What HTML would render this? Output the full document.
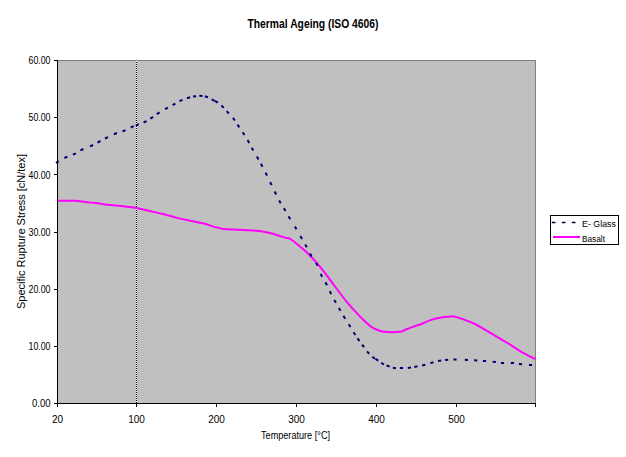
<!DOCTYPE html>
<html><head><meta charset="utf-8"><style>
html,body{margin:0;padding:0;background:#fff;width:626px;height:457px;overflow:hidden}
svg{display:block}
text{font-family:"Liberation Sans", sans-serif;fill:#000}
</style></head><body>
<svg width="626" height="457" viewBox="0 0 626 457">
<rect x="0" y="0" width="626" height="457" fill="#fff"/>
<text x="247.5" y="28" font-size="12" font-weight="bold" textLength="131" lengthAdjust="spacingAndGlyphs">Thermal Ageing (ISO 4606)</text>
<rect x="57" y="60" width="479" height="344" fill="#c0c0c0"/>
<path d="M57.5,60.5 H535.5 V403.5" fill="none" stroke="#808080" stroke-width="1"/>
<path d="M136.5,61 V403" fill="none" stroke="#fff" stroke-width="1"/>
<path d="M136.5,62 V403" fill="none" stroke="#000" stroke-width="1" stroke-dasharray="1 1"/>
<path d="M57.6,200.8 C60.5,200.8 70.1,200.6 74.7,200.8 C79.3,201.0 81.7,201.7 85.2,202.1 C88.7,202.5 92.0,202.7 95.7,203.1 C99.4,203.5 103.3,204.2 107.5,204.7 C111.7,205.2 117.0,205.6 120.7,206.0 C124.5,206.4 127.3,206.8 130.0,207.1 C132.7,207.4 133.3,207.4 136.6,208.1 C139.9,208.8 145.3,210.0 149.7,211.0 C154.1,212.0 158.4,212.9 162.8,214.0 C167.2,215.1 171.6,216.5 176.0,217.6 C180.4,218.7 184.3,219.6 189.1,220.6 C193.9,221.6 201.0,222.8 205.0,223.8 C209.0,224.8 209.8,225.5 212.9,226.4 C216.0,227.3 219.2,228.4 223.4,229.0 C227.6,229.6 232.1,229.4 237.8,229.7 C243.5,230.0 252.1,230.2 257.5,230.8 C262.9,231.4 265.4,231.9 270.0,233.0 C274.6,234.1 281.7,236.6 285.0,237.6 C288.3,238.6 287.9,237.6 290.0,238.8 C292.1,240.0 295.1,242.4 297.9,244.7 C300.7,247.0 303.9,249.7 307.0,252.6 C310.1,255.5 313.2,258.9 316.3,262.4 C319.4,265.9 322.4,269.6 325.5,273.6 C328.6,277.6 331.5,281.9 335.0,286.5 C338.5,291.1 342.7,296.9 346.3,301.3 C349.9,305.7 353.9,309.9 356.8,313.1 C359.8,316.3 361.6,318.2 364.0,320.5 C366.4,322.8 368.9,325.1 371.0,326.6 C373.1,328.1 374.3,328.6 376.5,329.5 C378.7,330.4 380.3,331.4 384.2,331.8 C388.1,332.2 396.2,332.2 399.9,331.8 C403.6,331.4 403.9,330.2 406.5,329.2 C409.1,328.2 413.4,326.7 415.7,325.9 C417.9,325.1 417.5,325.5 420.0,324.5 C422.5,323.5 427.0,321.3 430.5,320.1 C434.0,318.9 437.8,318.1 441.0,317.5 C444.2,316.9 447.5,316.8 449.8,316.6 C452.1,316.5 452.4,316.0 455.0,316.6 C457.6,317.2 462.0,318.8 465.5,320.1 C469.0,321.4 472.5,322.8 476.0,324.5 C479.5,326.2 483.0,328.6 486.5,330.6 C490.0,332.7 493.4,334.7 497.0,336.8 C500.6,338.9 504.1,340.9 508.4,343.5 C512.7,346.1 518.2,350.1 522.7,352.7 C527.2,355.3 533.4,358.0 535.5,359.1" fill="none" stroke="#ff00ff" stroke-width="2"/>
<path d="M56.0,162.8 L58.8,161.2 M64.4,158.0 L67.4,156.6 M72.9,154.7 L75.9,153.3 M80.4,150.4 L83.4,149.0 M90.0,146.4 L93.0,145.0 M97.5,142.6 L100.5,141.0 M105.0,138.5 L108.0,137.1 M113.9,134.2 L116.9,133.0 M122.5,131.4 L125.5,130.2 M130.7,127.5 L133.7,126.1 M135.7,125.4 L138.7,124.2 M143.6,122.5 L146.6,121.1 M150.3,118.7 L153.1,116.9 M156.8,114.1 L159.6,112.3 M165.1,109.2 L167.9,107.6 M172.6,105.2 L175.4,103.6 M179.5,101.2 L182.5,99.8 M186.9,98.2 L190.1,97.2 M193.0,96.6 L196.2,96.2 M199.3,95.7 L202.5,95.9 M204.8,96.3 L208.0,97.3 M211.6,99.4 L214.6,100.8 M215.0,100.9 L217.8,102.7 M221.4,105.6 L223.8,107.8 M226.7,111.1 L228.9,113.5 M232.9,117.9 L234.9,120.5 M237.5,124.6 L239.3,127.4 M242.7,132.2 L244.5,135.0 M247.6,140.1 L249.2,142.9 M251.7,147.8 L253.3,150.6 M256.9,156.6 L258.5,159.4 M260.9,163.7 L262.5,166.7 M265.6,172.6 L267.0,175.6 M270.2,182.1 L271.6,185.1 M274.7,191.5 L276.1,194.5 M279.1,200.4 L280.7,203.2 M283.9,208.3 L285.5,211.1 M288.5,216.4 L290.3,219.2 M294.9,226.4 L296.5,229.2 M300.4,236.1 L302.0,238.9 M305.2,244.4 L306.8,247.2 M310.0,253.6 L311.6,256.4 M316.1,262.9 L317.7,265.9 M320.7,273.8 L322.1,276.8 M325.4,282.2 L327.0,285.2 M329.8,291.2 L331.2,294.2 M334.3,299.9 L335.9,302.7 M338.9,308.0 L340.5,310.8 M343.4,315.9 L345.2,318.7 M348.7,324.2 L350.5,327.0 M353.6,332.2 L355.4,335.0 M357.6,338.3 L359.4,341.1 M362.1,344.6 L364.1,347.2 M367.0,351.4 L369.2,353.8 M372.3,356.8 L374.9,358.8 M375.5,358.9 L378.3,360.7 M381.2,362.9 L384.0,364.5 M386.5,365.4 L389.7,366.6 M392.8,367.8 L396.0,368.2 M399.9,368.0 L403.1,368.0 M407.8,367.9 L411.0,367.5 M414.3,366.9 L417.5,366.3 M422.1,365.5 L425.3,364.7 M430.3,363.1 L433.5,362.3 M438.0,361.0 L441.2,360.4 M445.0,360.0 L448.2,359.8 M453.4,359.5 L456.6,359.5 M464.8,359.8 L468.0,360.0 M474.1,360.3 L477.3,360.5 M482.9,360.9 L486.1,361.1 M492.7,361.7 L495.9,362.1 M500.9,362.9 L504.1,363.1 M510.8,362.9 L514.0,363.1 M518.9,363.9 L522.1,364.3 M528.9,364.9 L532.1,365.1" fill="none" stroke="#000070" stroke-width="2"/>
<path d="M57.5,60 V404" stroke="#000" stroke-width="1"/>
<path d="M57,403.5 H536" stroke="#000" stroke-width="1"/>
<g stroke="#000" stroke-width="1">
<path d="M54,403.5 H57"/>
<path d="M54,346.5 H57"/>
<path d="M54,289.5 H57"/>
<path d="M54,232.5 H57"/>
<path d="M54,174.5 H57"/>
<path d="M54,117.5 H57"/>
<path d="M54,60.5 H57"/>
<path d="M57.5,403 V407"/>
<path d="M136.5,403 V407"/>
<path d="M216.5,403 V407"/>
<path d="M296.5,403 V407"/>
<path d="M376.5,403 V407"/>
<path d="M456.5,403 V407"/>
<path d="M535.5,403 V407"/>
</g>
<text x="50.5" y="407.2" font-size="10" text-anchor="end" textLength="18.5" lengthAdjust="spacingAndGlyphs">0.00</text>
<text x="50.5" y="350.0" font-size="10" text-anchor="end" textLength="22" lengthAdjust="spacingAndGlyphs">10.00</text>
<text x="50.5" y="292.9" font-size="10" text-anchor="end" textLength="22" lengthAdjust="spacingAndGlyphs">20.00</text>
<text x="50.5" y="235.7" font-size="10" text-anchor="end" textLength="22" lengthAdjust="spacingAndGlyphs">30.00</text>
<text x="50.5" y="178.5" font-size="10" text-anchor="end" textLength="22" lengthAdjust="spacingAndGlyphs">40.00</text>
<text x="50.5" y="121.4" font-size="10" text-anchor="end" textLength="22" lengthAdjust="spacingAndGlyphs">50.00</text>
<text x="50.5" y="64.2" font-size="10" text-anchor="end" textLength="22" lengthAdjust="spacingAndGlyphs">60.00</text>
<text x="57.5" y="422.8" font-size="10" text-anchor="middle">20</text>
<text x="136.5" y="422.8" font-size="10" text-anchor="middle">100</text>
<text x="216.5" y="422.8" font-size="10" text-anchor="middle">200</text>
<text x="296.5" y="422.8" font-size="10" text-anchor="middle">300</text>
<text x="376.5" y="422.8" font-size="10" text-anchor="middle">400</text>
<text x="456.5" y="422.8" font-size="10" text-anchor="middle">500</text>
<text x="261" y="439.2" font-size="10" textLength="69" lengthAdjust="spacingAndGlyphs">Temperature [°C]</text>
<text transform="translate(25,309) rotate(-90)" x="0" y="0" font-size="10" textLength="155" lengthAdjust="spacingAndGlyphs">Specific Rupture Stress [cN/tex]</text>
<rect x="550.5" y="215.5" width="68" height="29" fill="#fff" stroke="#000" stroke-width="1"/>
<path d="M551.8,222.5 H555.5 M561.8,222.5 H565.5 M571.8,222.5 H575.5" stroke="#000040" stroke-width="1.6"/>
<path d="M553,237 H580" stroke="#ff00ff" stroke-width="2"/>
<text x="582" y="226.6" font-size="9.6" textLength="34" lengthAdjust="spacingAndGlyphs">E- Glass</text>
<text x="582" y="241.7" font-size="9.6" textLength="23" lengthAdjust="spacingAndGlyphs">Basalt</text>
</svg>
</body></html>
